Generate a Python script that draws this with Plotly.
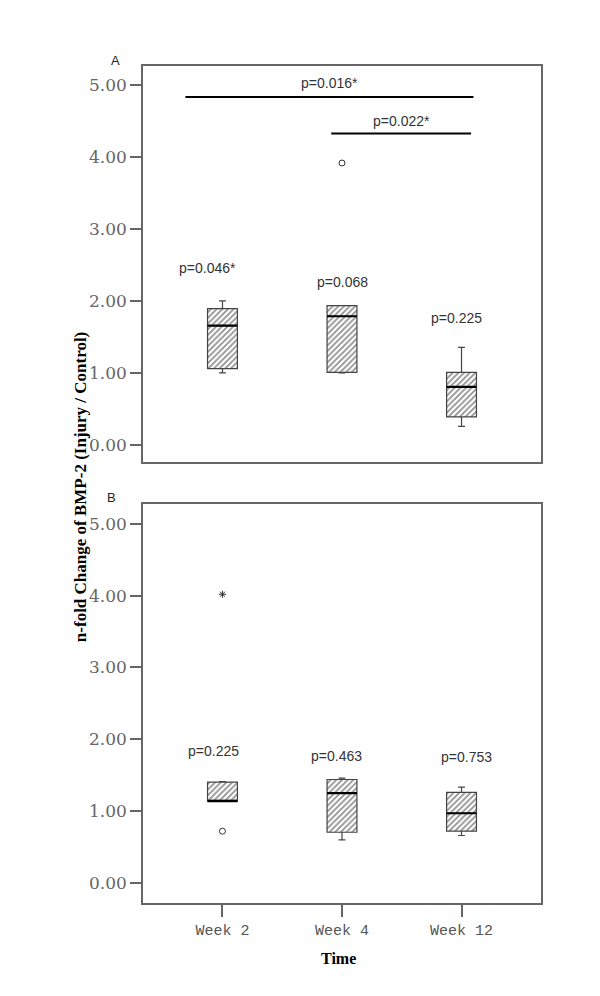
import plotly.graph_objects as go
from plotly.subplots import make_subplots

# ---------------- data ----------------
weeks = ["Week 2", "Week 4", "Week 12"]

# panel A box stats
a_low = [1.00, 1.00, 0.255]
a_q1 = [1.058, 1.007, 0.386]
a_med = [1.657, 1.787, 0.803]
a_q3 = [1.894, 1.936, 1.007]
a_high = [2.00, 1.936, 1.355]
a_pvals = ["p=0.046*", "p=0.068", "p=0.225"]
a_pval_y = [2.46, 2.27, 1.76]
a_out_x = ["Week 4"]
a_out_y = [3.92]

# panel B box stats
b_low = [1.14, 0.60, 0.66]
b_q1 = [1.14, 0.705, 0.72]
b_med = [1.14, 1.25, 0.97]
b_q3 = [1.404, 1.44, 1.26]
b_high = [1.41, 1.46, 1.335]
b_pvals = ["p=0.225", "p=0.463", "p=0.753"]
b_pval_y = [1.83, 1.77, 1.75]
b_out_x = ["Week 2"]
b_out_y = [0.72]
b_ext_x = ["Week 2"]
b_ext_y = [4.02]

# significance brackets in panel A (x span in category units, height, label)
sig_x0 = [-0.31, 0.91]
sig_x1 = [2.10, 2.08]
sig_y = [4.84, 4.33]
sig_text = ["p=0.016*", "p=0.022*"]
sig_text_y = [5.04, 4.51]

fig = make_subplots(rows=2, cols=1, shared_xaxes=False, vertical_spacing=0.05)

# rows: 1 -> panel A, 2 -> panel B
panels = [
    (1, a_low, a_q1, a_med, a_q3, a_high),
    (2, b_low, b_q1, b_med, b_q3, b_high),
]
for row, low, q1, med, q3, high in panels:
    # hatched box body
    fig.add_trace(go.Bar(
        x=weeks, y=[h - l for h, l in zip(q3, q1)], base=q1, width=0.25,
        marker=dict(color="white", line=dict(width=0),
                    pattern=dict(shape="/", fgcolor="#222", bgcolor="white", size=4, solidity=0.45)),
        showlegend=False, hoverinfo="skip"), row=row, col=1)
    # box outline, whiskers
    fig.add_trace(go.Box(
        x=weeks, q1=q1, median=med, q3=q3, lowerfence=low, upperfence=high,
        width=0.25, whiskerwidth=0.23, fillcolor="rgba(0,0,0,0)",
        line=dict(color="#444", width=1.2), boxpoints=False,
        showlegend=False), row=row, col=1)
    # thick median line drawn over the box
    fig.add_trace(go.Box(
        x=weeks, q1=med, median=med, q3=med, lowerfence=med, upperfence=med,
        width=0.25, whiskerwidth=0, fillcolor="rgba(0,0,0,0)",
        line=dict(color="black", width=2.2), boxpoints=False,
        showlegend=False, hoverinfo="skip"), row=row, col=1)

# outliers
fig.add_trace(go.Scatter(x=a_out_x, y=a_out_y, mode="markers",
                         marker=dict(symbol="circle-open", size=6, color="#333", line=dict(width=1)),
                         showlegend=False), row=1, col=1)
fig.add_trace(go.Scatter(x=b_out_x, y=b_out_y, mode="markers",
                         marker=dict(symbol="circle-open", size=6, color="#333", line=dict(width=1)),
                         showlegend=False), row=2, col=1)
fig.add_trace(go.Scatter(x=b_ext_x, y=b_ext_y, mode="markers",
                         marker=dict(symbol="asterisk-open", size=6, color="#333", line=dict(width=1)),
                         showlegend=False), row=2, col=1)

# significance lines
for x0, x1, y, t, ty in zip(sig_x0, sig_x1, sig_y, sig_text, sig_text_y):
    fig.add_shape(type="line", x0=x0, x1=x1, y0=y, y1=y, xref="x", yref="y",
                  line=dict(color="black", width=2))
    fig.add_annotation(x=(x0 + x1) / 2, y=ty, xref="x", yref="y", text=t, showarrow=False,
                       font=dict(family="Liberation Sans", size=14, color="#333"))

# p-values over boxes
shifts_a = [-15, 0, -5]
shifts_b = [-9, -6, 5]
for w, t, y, s in zip(weeks, a_pvals, a_pval_y, shifts_a):
    fig.add_annotation(x=w, y=y, xref="x", yref="y", text=t, showarrow=False, xshift=s,
                       font=dict(family="Liberation Sans", size=14, color="#333"))
for w, t, y, s in zip(weeks, b_pvals, b_pval_y, shifts_b):
    fig.add_annotation(x=w, y=y, xref="x2", yref="y2", text=t, showarrow=False, xshift=s,
                       font=dict(family="Liberation Sans", size=14, color="#333"))

# panel letters
fig.add_annotation(x=-0.07, y=1.006, xref="paper", yref="paper", text="A", showarrow=False,
                   xanchor="center", yanchor="middle", font=dict(family="Liberation Sans", size=13, color="#222"))
fig.add_annotation(x=-0.078, y=0.484, xref="paper", yref="paper", text="B", showarrow=False,
                   xanchor="center", yanchor="middle", font=dict(family="Liberation Sans", size=13, color="#222"))

# shared y title and x title
fig.add_annotation(x=-0.158, y=0.497, xref="paper", yref="paper", textangle=-90, showarrow=False,
                   xanchor="center", yanchor="middle",
                   text="<b>n-fold Change of BMP-2 (Injury / Control)</b>",
                   font=dict(family="Liberation Serif", size=17, color="black"))
fig.add_annotation(x=0.49, y=-0.066, xref="paper", yref="paper", showarrow=False,
                   xanchor="center", yanchor="middle",
                   text="<b>Time</b>", font=dict(family="Liberation Serif", size=16, color="black"))

axis_common = dict(showline=True, mirror=True, linecolor="#666", linewidth=1.5,
                   showgrid=False, zeroline=False)
fig.update_xaxes(**axis_common, type="category", range=[-0.665, 2.665],
                 categoryorder="array", categoryarray=weeks)
fig.update_xaxes(showticklabels=False, ticks="", row=1, col=1)
fig.update_xaxes(ticks="outside", ticklen=12, tickcolor="#666", tickwidth=1.5,
                 tickfont=dict(family="Liberation Mono", size=15, color="#555"), row=2, col=1)
fig.update_yaxes(**axis_common, ticks="outside", ticklen=11, tickcolor="#666", tickwidth=1.5,
                 tickvals=[0, 1, 2, 3, 4, 5], tickformat=".2f",
                 tickfont=dict(family="DejaVu Serif", size=17, color="#666"))
fig.update_yaxes(range=[-0.24, 5.27], domain=[0.527, 1.0], row=1, col=1)
fig.update_yaxes(range=[-0.28, 5.28], domain=[0.0, 0.477], row=2, col=1)

# page body adds ~8px offset, so the figure is a bit smaller than the window
fig.update_layout(
    width=584, height=980,
    margin=dict(l=135, r=51, t=58, b=85),
    paper_bgcolor="white", plot_bgcolor="white",
    barmode="overlay", boxmode="overlay",
    showlegend=False,
)

fig.write_html("out.html")
